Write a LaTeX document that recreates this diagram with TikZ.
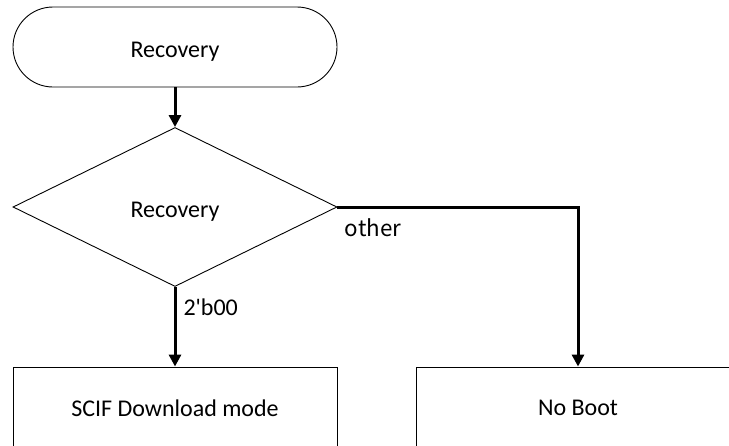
\documentclass[tikz,border=0pt]{standalone}
\usepackage{fontspec}
\setmainfont{Carlito}[Ligatures=TeXOff]
\newfontfamily\gothicfont{Noto Sans CJK JP}
\usetikzlibrary{arrows.meta,shapes.geometric,shapes.misc}

\begin{document}
\begin{tikzpicture}[x=1pt, y=-1pt, >={Triangle[length=12pt,width=12pt]}, line join=miter,
    every node/.style={font=\fontsize{24}{28}\selectfont},
    shapebox/.style={draw, line width=0.9pt, inner sep=0pt, minimum width=324pt},
    lowtext/.style={text height=20pt, text depth=0pt},
    flow/.style={->, line width=3pt},
    flowlabel/.style={anchor=base west, inner sep=0pt}]

    \useasboundingbox (0,0) rectangle (729,445);
    \clip (0,0) rectangle (729,445);

    % --- start terminal and decision ---
    \node[shapebox, lowtext, rounded rectangle, minimum height=80pt] (term) at (175,47) {Recovery};
    \node[shapebox, lowtext, diamond, minimum height=159pt] (dec) at (175,207) {Recovery};

    % --- outcomes (run past the lower edge) ---
    \node[shapebox, rectangle, minimum height=82pt] (scif) at (175,408) {SCIF Download mode};
    \node[shapebox, rectangle, minimum height=82pt] (noboot) at (578,408) {No Boot};

    % --- flow ---
    \draw[flow] (term.south) -- (dec.north);
    \draw[flow] (dec.south) -- (scif.north)
        node[flowlabel, pos=0, xshift=7pt, yshift=-29pt] (lblzero) {2'b00};
    \draw[flow] (dec.east) -| (noboot.north)
        node[flowlabel, pos=0, xshift=6pt, yshift=-29pt, font=\gothicfont\fontsize{22.4}{26}\selectfont] (lblother) {other};

\end{tikzpicture}
\end{document}
